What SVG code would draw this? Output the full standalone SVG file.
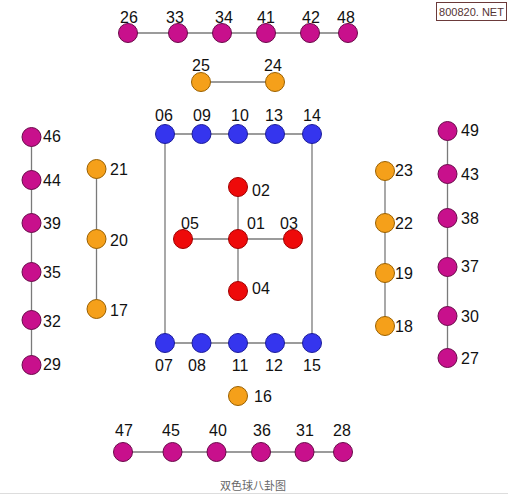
<svg xmlns="http://www.w3.org/2000/svg" width="508" height="500" viewBox="0 0 508 500">
<style>
.ln{stroke:#7a7a7a;stroke-width:1.3;fill:none}
.m{fill:#c8108c;stroke:#6a0a4a;stroke-width:1}
.o{fill:#f5a01a;stroke:#9a6000;stroke-width:1}
.b{fill:#3535ee;stroke:#1c1c9a;stroke-width:1}
.r{fill:#ee0a0a;stroke:#a00000;stroke-width:1}
text{font-family:"Liberation Sans",Arial,sans-serif;font-size:16px;fill:#111}
.c{text-anchor:middle}
</style>
<rect x="0" y="0" width="508" height="500" fill="#ffffff"/>
<g id="watermark">
<rect x="436.5" y="2.5" width="70" height="18" fill="#ffffff" stroke="#6b3a3a" stroke-width="1"/>
<text x="471.5" y="15.5" class="c" style="font-size:11px;fill:#553333">800820. NET</text>
</g>
<g id="connectors">
<line class="ln" x1="128" y1="33" x2="348" y2="33"/>
<line class="ln" x1="201" y1="82" x2="275" y2="82"/>
<line class="ln" x1="165" y1="134" x2="312" y2="134"/>
<line class="ln" x1="165" y1="343" x2="312" y2="343"/>
<line class="ln" x1="165" y1="134" x2="165" y2="343"/>
<line class="ln" x1="312" y1="134" x2="312" y2="343"/>
<line class="ln" x1="238" y1="187" x2="238" y2="291"/>
<line class="ln" x1="183" y1="239" x2="293" y2="239"/>
<line class="ln" x1="31.5" y1="137" x2="31.5" y2="365"/>
<line class="ln" x1="96.5" y1="169" x2="96.5" y2="309"/>
<line class="ln" x1="385" y1="171" x2="385" y2="326"/>
<line class="ln" x1="447.5" y1="131" x2="447.5" y2="358"/>
<line class="ln" x1="123" y1="452" x2="343" y2="452"/>
</g>
<g id="top-row">
<circle class="m" cx="128" cy="33" r="9.5"/><text class="c" x="129" y="23">26</text>
<circle class="m" cx="178" cy="33" r="9.5"/><text class="c" x="175" y="23">33</text>
<circle class="m" cx="222" cy="33" r="9.5"/><text class="c" x="224" y="23">34</text>
<circle class="m" cx="266" cy="33" r="9.5"/><text class="c" x="266" y="23">41</text>
<circle class="m" cx="310" cy="33" r="9.5"/><text class="c" x="311" y="23">42</text>
<circle class="m" cx="348" cy="33" r="9.5"/><text class="c" x="346" y="23">48</text>
</g>
<g id="pair-25-24">
<circle class="o" cx="201" cy="82" r="9.5"/><text class="c" x="201" y="71">25</text>
<circle class="o" cx="275" cy="82" r="9.5"/><text class="c" x="273" y="71">24</text>
</g>
<g id="blue-top">
<circle class="b" cx="165" cy="134" r="9.5"/><text class="c" x="164" y="121">06</text>
<circle class="b" cx="201.5" cy="134" r="9.5"/><text class="c" x="202" y="121">09</text>
<circle class="b" cx="238" cy="134" r="9.5"/><text class="c" x="240" y="121">10</text>
<circle class="b" cx="275" cy="134" r="9.5"/><text class="c" x="274" y="121">13</text>
<circle class="b" cx="312" cy="134" r="9.5"/><text class="c" x="312" y="121">14</text>
</g>
<g id="blue-bottom">
<circle class="b" cx="165" cy="343" r="9.5"/><text class="c" x="164" y="371">07</text>
<circle class="b" cx="201.5" cy="343" r="9.5"/><text class="c" x="197" y="371">08</text>
<circle class="b" cx="238" cy="343" r="9.5"/><text class="c" x="240" y="371">11</text>
<circle class="b" cx="275" cy="343" r="9.5"/><text class="c" x="274" y="371">12</text>
<circle class="b" cx="312" cy="343" r="9.5"/><text class="c" x="312" y="371">15</text>
</g>
<g id="red-cross">
<circle class="r" cx="238" cy="187" r="9.5"/><text x="252" y="196">02</text>
<circle class="r" cx="183" cy="239" r="9.5"/><text x="181" y="229">05</text>
<circle class="r" cx="238" cy="239" r="9.5"/><text x="247" y="229">01</text>
<circle class="r" cx="293" cy="239" r="9.5"/><text x="280" y="229">03</text>
<circle class="r" cx="238" cy="291" r="9.5"/><text x="252" y="294">04</text>
</g>
<g id="node-16">
<circle class="o" cx="238" cy="396" r="9.5"/><text x="254" y="402">16</text>
</g>
<g id="left-magenta">
<circle class="m" cx="31.5" cy="137" r="9.5"/><text x="43" y="142">46</text>
<circle class="m" cx="31.5" cy="180" r="9.5"/><text x="43" y="186">44</text>
<circle class="m" cx="31.5" cy="223" r="9.5"/><text x="43" y="229">39</text>
<circle class="m" cx="31.5" cy="272" r="9.5"/><text x="43" y="278">35</text>
<circle class="m" cx="31.5" cy="320" r="9.5"/><text x="43" y="327">32</text>
<circle class="m" cx="31.5" cy="365" r="9.5"/><text x="43" y="370">29</text>
</g>
<g id="left-orange">
<circle class="o" cx="96.5" cy="169" r="9.5"/><text x="110" y="175">21</text>
<circle class="o" cx="96.5" cy="239" r="9.5"/><text x="110" y="246">20</text>
<circle class="o" cx="96.5" cy="309" r="9.5"/><text x="110" y="316">17</text>
</g>
<g id="right-orange">
<circle class="o" cx="385" cy="171" r="9.5"/><text x="395" y="176">23</text>
<circle class="o" cx="385" cy="223" r="9.5"/><text x="395" y="229">22</text>
<circle class="o" cx="385" cy="273" r="9.5"/><text x="395" y="279">19</text>
<circle class="o" cx="385" cy="326" r="9.5"/><text x="395" y="332">18</text>
</g>
<g id="right-magenta">
<circle class="m" cx="447.5" cy="131" r="9.5"/><text x="461" y="136">49</text>
<circle class="m" cx="447.5" cy="174" r="9.5"/><text x="461" y="180">43</text>
<circle class="m" cx="447.5" cy="218" r="9.5"/><text x="461" y="224">38</text>
<circle class="m" cx="447.5" cy="267" r="9.5"/><text x="461" y="272">37</text>
<circle class="m" cx="447.5" cy="316" r="9.5"/><text x="461" y="322">30</text>
<circle class="m" cx="447.5" cy="358" r="9.5"/><text x="461" y="364">27</text>
</g>
<g id="bottom-row">
<circle class="m" cx="123" cy="452" r="9.5"/><text class="c" x="124" y="436">47</text>
<circle class="m" cx="172.5" cy="452" r="9.5"/><text class="c" x="171" y="436">45</text>
<circle class="m" cx="216.5" cy="452" r="9.5"/><text class="c" x="218" y="436">40</text>
<circle class="m" cx="261" cy="452" r="9.5"/><text class="c" x="262" y="436">36</text>
<circle class="m" cx="304.5" cy="452" r="9.5"/><text class="c" x="305" y="436">31</text>
<circle class="m" cx="343" cy="452" r="9.5"/><text class="c" x="342" y="436">28</text>
</g>
<g id="caption">
<text class="c" x="253" y="490" style="font-family:'Noto Sans CJK SC','Liberation Sans',sans-serif;font-size:11px;fill:#666">双色球八卦图</text>
<line x1="0" y1="493.5" x2="508" y2="493.5" stroke="#dddddd" stroke-width="1"/>
</g>
</svg>
